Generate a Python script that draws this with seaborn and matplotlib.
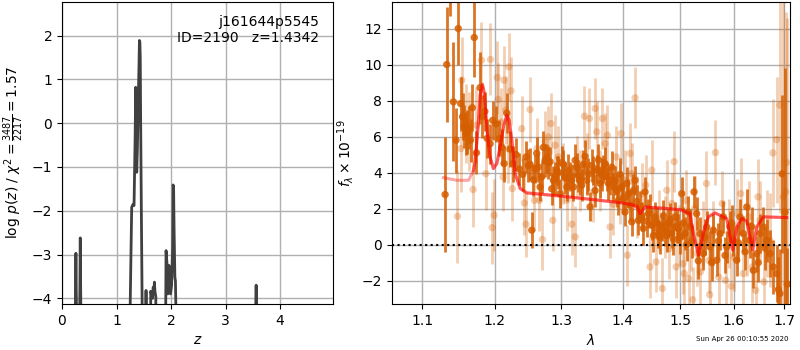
import matplotlib
matplotlib.use("Agg")
import matplotlib.pyplot as plt
import matplotlib.ticker as mticker
import seaborn as sns
import numpy as np

# ---------------- left panel: p(z) ----------------
pz_z = [0.00, 0.235, 0.245, 0.255, 0.265, 0.275, 0.315, 0.325, 0.335, 0.345, 0.355,
        1.235, 1.250, 1.278, 1.300, 1.321, 1.340, 1.352, 1.362, 1.370, 1.382, 1.400,
        1.413, 1.420, 1.428, 1.435, 1.442, 1.455, 1.470, 1.478,
        1.530, 1.536, 1.541, 1.546, 1.552,
        1.620, 1.627, 1.640, 1.651, 1.660, 1.672, 1.685, 1.694, 1.705, 1.720, 1.728,
        1.895, 1.902, 1.908, 1.925, 1.940, 1.952, 1.963, 1.978, 1.990, 2.010,
        2.030, 2.037, 2.046, 2.055, 2.070, 2.080, 2.088, 2.095,
        3.545, 3.552, 3.560, 3.568, 3.575, 4.97]
pz_logp = [-9.0, -9.0, -4.2, -2.97, -4.2, -9.0, -9.0, -4.2, -2.62, -4.2, -9.0,
           -9.0, -4.2, -1.92, -1.86, -1.88, -0.40, 0.82, -0.30, -1.12, -0.60, 0.60,
           1.40, 1.89, 1.85, 1.50, 0.10, -2.00, -4.20, -9.0,
           -9.0, -4.2, -3.82, -4.2, -9.0,
           -9.0, -3.84, -3.90, -3.84, -4.0, -3.75, -3.85, -3.63, -3.85, -3.96, -9.0,
           -9.0, -4.2, -2.91, -3.20, -3.90, -3.50, -3.25, -3.60, -3.90, -3.70,
           -2.80, -1.41, -1.45, -2.40, -3.52, -3.60, -4.2, -9.0,
           -9.0, -4.2, -3.70, -4.2, -9.0, -9.0]

# ---------------- right panel: spectrum ----------------
# higher-weight (dark) points
dark_wave = [1.1304, 1.1326, 1.1373, 1.1417, 1.1453, 1.1484, 1.1517, 1.1543, 1.1564, 1.1590,
             1.1609, 1.1632, 1.1655, 1.1680, 1.1707, 1.1738, 1.1790, 1.1823, 1.1857, 1.1890,
             1.1933, 1.1970, 1.2018, 1.2067, 1.2101, 1.2135, 1.2174, 1.2223, 1.2262, 1.2311,
             1.2361, 1.2410, 1.2460, 1.2495, 1.2546, 1.2596, 1.2647, 1.2672, 1.2723, 1.2775,
             1.2826, 1.2877, 1.2930, 1.2981, 1.3033, 1.3087, 1.3138, 1.3191, 1.3245, 1.3297,
             1.3350, 1.3405, 1.3458, 1.3513, 1.3567, 1.3621, 1.3675, 1.3730, 1.3785, 1.3841,
             1.3868, 1.3924, 1.3980, 1.4036, 1.4093, 1.4150, 1.4206, 1.4263, 1.4320, 1.4377,
             1.4436, 1.4494, 1.4553, 1.4611, 1.4672, 1.4729, 1.4788, 1.4849, 1.4907, 1.4966,
             1.5027, 1.5087, 1.5147, 1.5208, 1.5250, 1.5298, 1.5361, 1.5422, 1.5484, 1.5547,
             1.5609, 1.5673, 1.5735, 1.5798, 1.5862, 1.5925, 1.5989, 1.6054, 1.6118, 1.6183,
             1.6250, 1.6313, 1.6378, 1.6445, 1.6510, 1.6577, 1.6643, 1.6710, 1.6777, 1.6844,
             1.6880, 1.6912, 1.6958, 1.7014, 1.7060]
dark_flux = [2.78, 10.0, 15.0, 7.93, 5.80, 12.0, 7.83, 7.10, 6.57, 6.16,
             6.25, 6.50, 5.80, 7.60, 11.5, 5.10, 8.72, 7.10, 7.40, 5.90,
             5.60, 6.90, 6.70, 5.90, 5.40, 4.50, 7.30, 5.30, 4.50, 5.00,
             4.20, 3.90, 4.87, 4.40, 0.80, 4.20, 4.30, 3.20, 5.40, 4.80,
             4.60, 3.57, 4.10, 2.83, 4.46, 3.20, 3.76, 3.20, 4.30, 3.57,
             4.46, 3.57, 2.10, 4.10, 4.20, 3.39, 4.20, 3.76, 3.57, 3.20,
             3.57, 2.46, 3.20, 1.81, 2.83, 1.26, 3.57, 1.35, 1.54, 2.93,
             1.72, 1.07, 1.54, 0.61, 0.98, 0.70, 1.17, 0.61, 1.54, 0.89,
             2.83, 0.61, 1.81, 0.15, 2.93, 1.72, 0.61, -0.50, 0.98, -0.13,
             0.80, -0.87, 0.61, 1.54, -0.13, 0.98, 0.24, -0.87, 1.54, 0.61,
             2.09, 0.24, -1.43, -0.50, 0.61, 0.98, 0.24, -0.50, -1.24, -1.61,
             -2.50, -2.72, 3.93, 1.80, -2.20]
dark_err = [3.2, 3.2, 2.3, 3.3, 1.8, 2.0, 1.5, 1.3, 1.2, 1.2,
            1.2, 1.2, 1.2, 1.3, 2.2, 1.2, 2.0, 1.2, 1.1, 1.1,
            1.1, 1.1, 1.0, 1.0, 1.0, 1.0, 1.1, 1.0, 1.0, 0.9,
            0.9, 0.9, 0.9, 0.9, 1.0, 0.8, 0.8, 0.8, 0.9, 0.8,
            0.8, 0.8, 0.8, 0.8, 0.8, 0.8, 0.8, 0.8, 0.8, 0.8,
            0.8, 0.8, 0.8, 0.8, 0.8, 0.8, 0.8, 0.8, 0.8, 0.8,
            0.8, 0.8, 0.8, 0.8, 0.8, 0.8, 0.8, 0.8, 0.8, 0.8,
            0.8, 0.8, 0.8, 0.8, 0.8, 0.8, 0.8, 0.8, 0.8, 0.8,
            0.9, 0.9, 0.9, 0.9, 0.9, 0.9, 0.9, 0.9, 0.9, 0.9,
            0.9, 0.9, 0.9, 0.9, 0.9, 0.9, 0.9, 0.9, 1.0, 1.0,
            1.0, 1.0, 1.0, 1.0, 1.1, 1.1, 1.2, 1.3, 1.5, 1.6,
            1.8, 2.5, 4.4, 8.0, 2.0]

# second dark set (interleaved pixels)
dark2_wave = [1.2520, 1.2571, 1.2621, 1.2697, 1.2749, 1.2800, 1.2851, 1.2903, 1.2955, 1.3007,
              1.3060, 1.3112, 1.3164, 1.3218, 1.3271, 1.3323, 1.3377, 1.3431, 1.3485, 1.3540,
              1.3594, 1.3648, 1.3702, 1.3757, 1.3813, 1.3896, 1.3952, 1.4008, 1.4064, 1.4121,
              1.4178, 1.4234, 1.4291, 1.4348, 1.4406, 1.4465, 1.4523, 1.4582, 1.4641, 1.4700,
              1.4758, 1.4818, 1.4878, 1.4936, 1.4996, 1.5057, 1.5117, 1.5177, 1.5330, 1.5453,
              1.5578, 1.5704, 1.5830, 1.5957, 1.6086, 1.6216, 1.6346, 1.6477, 1.6610]
dark2_flux = [4.46, 3.60, 5.07, 3.76, 4.68, 4.55, 3.10, 3.68, 4.00, 4.55,
              3.70, 4.13, 3.57, 4.68, 3.80, 3.30, 4.90, 3.90, 4.40, 3.00,
              4.70, 3.90, 4.50, 3.40, 4.30, 3.00, 3.90, 2.60, 3.40, 2.20,
              3.00, 2.40, 2.10, 0.90, 1.30, 1.90, 0.50, 1.20, 0.40, 1.60,
              0.50, 1.40, 0.30, 1.00, 0.40, 1.20, 0.00, 1.00, -0.90, 0.40,
              -1.00, 0.20, -0.60, 1.20, 0.10, -0.40, 1.00, -1.00, -0.20]
dark2_err = [0.9, 0.9, 0.9, 0.9, 0.9, 0.9, 0.9, 0.9, 0.9, 0.9,
             0.9, 0.9, 0.9, 0.9, 0.9, 0.9, 0.9, 0.9, 0.9, 0.9,
             0.9, 0.9, 0.9, 0.9, 0.9, 0.9, 0.9, 0.9, 0.9, 0.9,
             0.9, 0.9, 0.9, 0.9, 0.9, 0.9, 0.9, 0.9, 0.9, 0.9,
             0.9, 0.9, 0.9, 0.9, 0.9, 0.9, 0.9, 0.9, 1.0, 1.0,
             1.0, 1.0, 1.0, 1.0, 1.0, 1.0, 1.1, 1.1, 1.2]

# lower-weight (light) points
light_wave = [1.1473, 1.1520, 1.1533, 1.1590, 1.1637, 1.1691, 1.1737, 1.1809, 1.1871, 1.1938,
              1.1962, 1.1991, 1.2034, 1.2048, 1.2097, 1.2120, 1.2131, 1.2160, 1.2195, 1.2205,
              1.2236, 1.2255, 1.2395, 1.2435, 1.2460, 1.2521, 1.2586, 1.2623, 1.2662, 1.2708,
              1.2749, 1.2800, 1.2837, 1.2868, 1.2904, 1.2955, 1.3024, 1.3087, 1.3165, 1.3218,
              1.3245, 1.3297, 1.3367, 1.3405, 1.3447, 1.3513, 1.3540, 1.3567, 1.3621, 1.3660,
              1.3703, 1.3741, 1.3785, 1.3841, 1.3886, 1.3952, 1.3969, 1.4036, 1.4075, 1.4121,
              1.4150, 1.4206, 1.4246, 1.4332, 1.4391, 1.4465, 1.4495, 1.4570, 1.4628, 1.4681,
              1.4729, 1.4759, 1.4806, 1.4849, 1.4890, 1.4926, 1.4986, 1.5048, 1.5072, 1.5108,
              1.5151, 1.5195, 1.5225, 1.5262, 1.5306, 1.5367, 1.5418, 1.5479, 1.5523, 1.5541,
              1.5605, 1.5649, 1.5711, 1.5776, 1.5840, 1.5904, 1.5950, 1.6001, 1.6066, 1.6131,
              1.6183, 1.6248, 1.6293, 1.6359, 1.6424, 1.6469, 1.6510, 1.6588, 1.6642, 1.6708,
              1.6769, 1.6843, 1.6911, 1.6981, 1.7028, 1.7049]
light_flux = [1.57, 5.33, 9.13, 6.72, 6.26, 3.06, 6.63, 10.24, 3.94, 10.28,
              0.94, 1.63, 9.28, 8.06, 6.81, 3.76, 9.13, 7.46, 5.33, 9.87,
              8.54, 3.11, 6.44, 2.31, 1.13, 7.50, 2.46, 5.33, 2.46, 0.28,
              5.70, 5.98, 6.72, 1.35, 5.52, 4.87, 3.94, 2.46, 1.13, 0.43,
              4.31, 3.57, 7.13, 4.50, 7.00, 2.93, 7.56, 6.26, 3.57, 7.00,
              5.61, 6.07, 0.98, 2.24, 4.87, 2.87, 6.17, 3.57, -0.59, 5.06,
              3.94, 8.15, 2.09, 2.83, 3.30, -1.24, 4.13, -0.96, 1.35, -2.44,
              0.98, 3.02, -0.22, 2.28, 4.61, -1.24, 0.52, -1.06, -1.61, 2.46,
              -1.89, 0.24, -3.06, 2.00, -0.50, -1.52, 0.61, 3.39, -0.87, -2.78,
              0.61, 5.11, -1.80, 2.28, -1.98, 0.61, -2.31, -0.69, 1.72, 2.83,
              -1.61, 0.24, 1.54, -1.24, -2.54, 2.65, 1.35, -2.07, 0.61, 0.24,
              5.09, 5.83, 7.74, 2.65, 2.93, 4.56]
light_err = [2.6, 2.4, 2.4, 2.2, 2.2, 2.1, 2.1, 2.1, 2.0, 2.0,
             2.0, 2.0, 2.0, 2.0, 1.9, 1.9, 1.9, 1.9, 1.9, 1.9,
             1.9, 1.8, 1.8, 1.8, 1.8, 1.8, 1.7, 1.7, 1.7, 1.7,
             1.7, 1.7, 1.7, 1.7, 1.7, 1.7, 1.7, 1.7, 1.7, 1.7,
             1.7, 1.7, 1.7, 1.7, 1.7, 1.7, 1.7, 1.7, 1.7, 1.7,
             1.7, 1.7, 1.7, 1.7, 1.7, 1.7, 1.7, 1.7, 1.7, 1.7,
             1.7, 1.7, 1.7, 1.7, 1.7, 1.7, 1.7, 1.7, 1.7, 1.7,
             1.7, 1.7, 1.7, 1.7, 1.7, 1.7, 1.7, 1.7, 1.7, 1.7,
             1.7, 1.7, 1.8, 1.8, 1.8, 1.8, 1.8, 1.8, 1.8, 1.8,
             1.8, 1.8, 1.8, 1.8, 1.9, 1.9, 1.9, 1.9, 1.9, 2.0,
             2.0, 2.0, 2.0, 2.0, 2.1, 2.1, 2.2, 2.3, 2.4, 2.6,
             3.0, 3.5, 6.0, 11.0, 10.0, 8.0]

# best-fit model
model_wave = [1.128, 1.1464, 1.1626, 1.1695, 1.172, 1.176, 1.179, 1.1823, 1.185, 1.189,
              1.193, 1.198, 1.203, 1.208, 1.213, 1.2175, 1.221, 1.2249, 1.2297, 1.2372,
              1.2472, 1.30, 1.35, 1.40, 1.4178, 1.4245, 1.4292, 1.4378, 1.47, 1.50,
              1.5177, 1.5238, 1.5331, 1.5422, 1.5515, 1.564, 1.5862, 1.5977, 1.6055, 1.6153,
              1.6248, 1.6367, 1.6445, 1.6577, 1.7049]
model_flux = [3.72, 3.57, 3.57, 4.10, 4.60, 6.50, 8.30, 8.90, 8.40, 6.30,
              4.90, 4.22, 4.50, 5.50, 6.60, 7.19, 6.90, 5.80, 3.94, 3.11,
              2.87, 2.69, 2.50, 2.31, 2.19, 2.10, 1.72, 2.09, 2.02, 1.94,
              1.72, 0.61, -0.59, 0.61, 1.54, 1.76, 1.44, -0.31, 0.98, 1.44,
              1.31, -0.31, 0.98, 1.54, 1.50]

left_xticks = [0, 1, 2, 3, 4]
left_yticks = [-4, -3, -2, -1, 0, 1, 2]
right_xticks = [1.1, 1.2, 1.3, 1.4, 1.5, 1.6, 1.7]
right_xticklabels = ["1.1", "1.2", "1.3", "1.4", "1.5", "1.6", "1.7"]
right_yticks = [-2, 0, 2, 4, 6, 8, 10, 12]

# ---------------- figure ----------------
fig = plt.figure(figsize=(8, 3.5), dpi=100)
ax1 = fig.add_axes([0.0775, 0.1314, 0.3388, 0.8643])
ax2 = fig.add_axes([0.4896, 0.1314, 0.4979, 0.8643])

sns.lineplot(x=pz_z, y=pz_logp, ax=ax1, color="#404040", lw=2, sort=False,
             estimator=None)
ax1.set_xlim(0, 4.97)
ax1.set_ylim(-4.13, 2.78)
ax1.set_xticks(left_xticks)
ax1.set_yticks(left_yticks)
ax1.grid(True, color="#b0b0b0", lw=1)
ax1.set_axisbelow(True)
ax1.set_xlabel("$z$")
ax1.set_ylabel(r"log $p(z)$ / $\chi^2=\frac{3487}{2217}=1.57$")
ax1.text(0.95, 0.955, "j161644p5545\nID=2190   z=1.4342", transform=ax1.transAxes,
         ha="right", va="top", fontsize=10)

col = "#D55E00"
ax2.set_xscale("log")
ax2.errorbar(light_wave, light_flux, yerr=light_err, fmt="none", ecolor=col,
             alpha=0.3, elinewidth=2)
sns.scatterplot(x=light_wave, y=light_flux, ax=ax2, color=col, alpha=0.3, s=28,
                edgecolor="none")
for w, f, e in [(dark_wave, dark_flux, dark_err), (dark2_wave, dark2_flux, dark2_err)]:
    ax2.errorbar(w, f, yerr=e, fmt="none", ecolor=col, alpha=0.85, elinewidth=2)
    sns.scatterplot(x=w, y=f, ax=ax2, color=col, alpha=0.85, s=28, edgecolor="none")
sns.lineplot(x=model_wave, y=model_flux, ax=ax2, color="red", lw=2.2, alpha=0.35,
             sort=False, estimator=None)
sns.lineplot(x=model_wave[3:], y=model_flux[3:], ax=ax2, color="red", lw=2.2,
             alpha=0.45, sort=False, estimator=None)
ax2.axhline(0, color="k", ls=":", lw=1.5)

ax2.set_xlim(1.06, 1.7117)
ax2.set_ylim(-3.3, 13.5)
ax2.set_xticks(right_xticks)
ax2.set_xticklabels(right_xticklabels)
ax2.xaxis.set_minor_locator(mticker.NullLocator())
ax2.set_yticks(right_yticks)
ax2.grid(True, color="#b0b0b0", lw=1)
ax2.set_axisbelow(True)
ax2.set_xlabel(r"$\lambda$")
ax2.set_ylabel(r"$f_\lambda\times10^{-19}$")

fig.text(0.985, 0.031, "Sun Apr 26 00:10:55 2020", ha="right", va="center",
         fontsize=5)

fig.savefig("out.png", dpi=100)
